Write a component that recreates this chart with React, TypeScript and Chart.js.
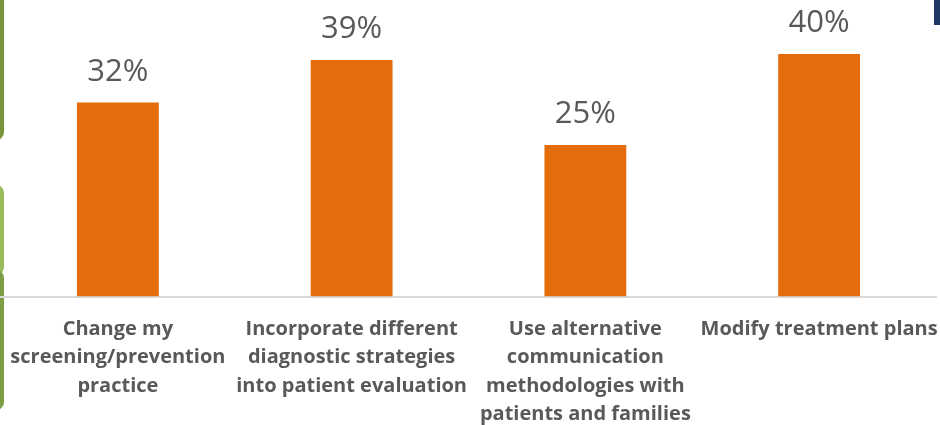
import React, { useEffect, useRef } from "react";
import { Chart, registerables } from "chart.js";

Chart.register(...registerables);

const categories: string[][] = [
  ["Change my", "screening/prevention", "practice"],
  ["Incorporate different", "diagnostic strategies", "into patient evaluation"],
  ["Use alternative", "communication", "methodologies with", "patients and families"],
  ["Modify treatment plans"],
];
const values: number[] = [32, 39, 25, 40];

const FONT = "'Open Sans', 'Noto Sans', sans-serif";

const valueLabels = {
  id: "valueLabels",
  afterDatasetsDraw(chart: any) {
    const ctx = chart.ctx;
    const meta = chart.getDatasetMeta(0);
    ctx.save();
    ctx.fillStyle = "#595959";
    ctx.font = `31px ${FONT}`;
    ctx.textAlign = "center";
    ctx.textBaseline = "alphabetic";
    meta.data.forEach((bar: any, i: number) => {
      ctx.fillText(values[i] + "%", bar.x, bar.y - 22);
    });
    ctx.restore();
  },
};

const decorations = {
  id: "decorations",
  beforeDraw(chart: any) {
    const ctx = chart.ctx;
    ctx.save();
    const rr = (x: number, y: number, w: number, h: number, r: number, color: string) => {
      ctx.fillStyle = color;
      ctx.beginPath();
      ctx.roundRect(x, y, w, h, r);
      ctx.fill();
    };
    rr(-20, -20, 24, 160, 8, "#77933C");
    rr(-20, 185, 24, 90, 8, "#9BBB59");
    ctx.fillStyle = "#7E9E45";
    ctx.beginPath();
    ctx.roundRect(-20, 270, 24, 140, [0, 8, 8, 0]);
    ctx.fill();
    ctx.fillStyle = "#1F3864";
    ctx.fillRect(934, 0, 6, 25);
    ctx.restore();
  },
};

export default function App() {
  const ref = useRef<HTMLCanvasElement>(null);
  useEffect(() => {
    document.body.style.margin = "0";
    const chart = new Chart(ref.current!, {
      type: "bar",
      data: {
        labels: categories,
        datasets: [
          {
            data: values,
            backgroundColor: "#E46C0A",
            categoryPercentage: 0.7,
            barPercentage: 0.5,
          },
        ],
      },
      options: {
        responsive: false,
        animation: false,
        layout: { padding: { left: 1, right: 4, top: 0, bottom: -22 } },
        plugins: { legend: { display: false }, tooltip: { enabled: false } },
        scales: {
          x: {
            grid: { display: false, drawTicks: false },
            border: { display: true, color: "#D9D9D9", width: 2 },
            afterFit(scale: any) {
              scale.paddingLeft = 0;
              scale.paddingRight = 0;
            },
            ticks: {
              color: "#595959",
              font: { family: FONT, size: 20, weight: "bold", lineHeight: 1.43 },
              padding: 18,
              maxRotation: 0,
              autoSkip: false,
            },
          },
          y: {
            display: false,
            min: 0,
            max: 48.9,
          },
        },
      },
      plugins: [decorations, valueLabels],
    });
    return () => chart.destroy();
  }, []);
  return <canvas ref={ref} width={940} height={425} style={{ display: "block" }} />;
}
